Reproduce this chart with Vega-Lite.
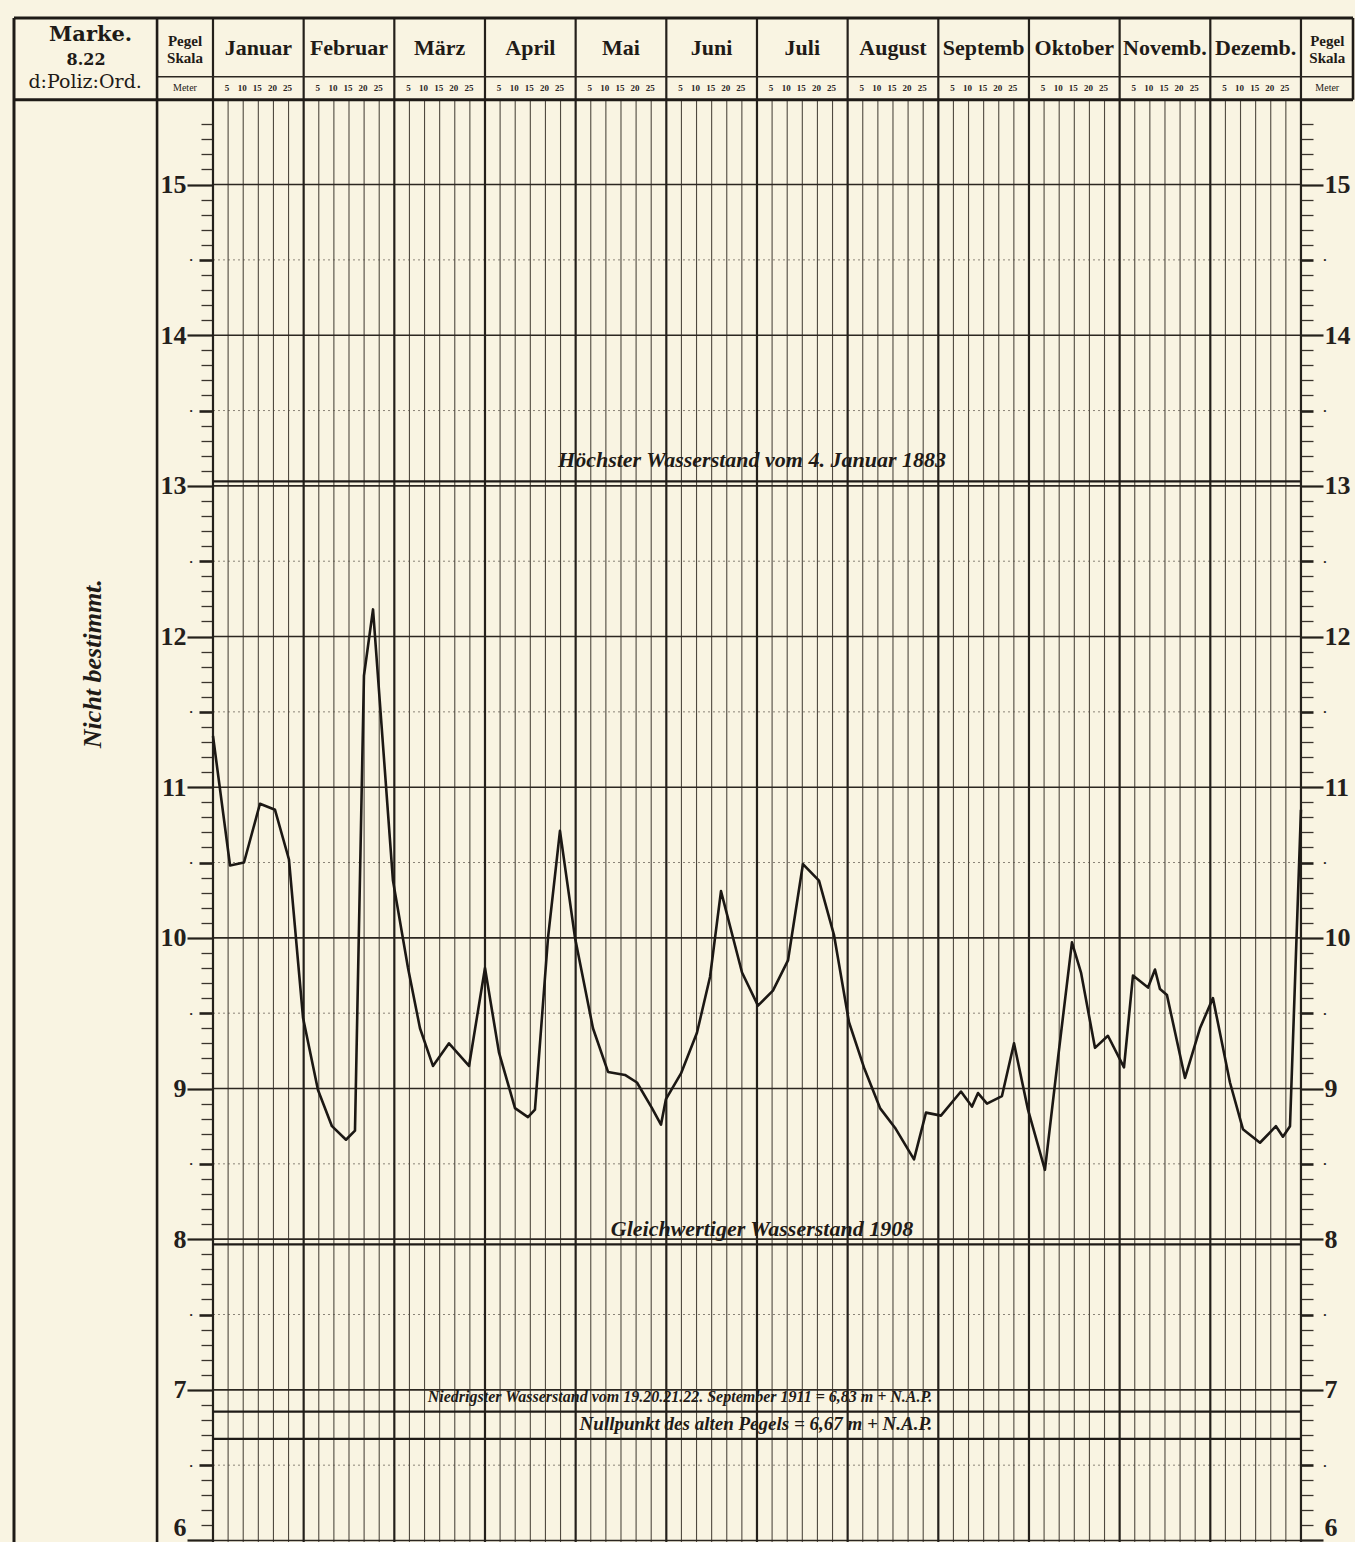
{
  "$schema": "https://vega.github.io/schema/vega-lite/v6.json",
  "width": 1355,
  "height": 1542,
  "autosize": {"type": "none"},
  "padding": 0,
  "background": "#f9f4e2",
  "config": {"view": {"stroke": null}, "axis": {"domain": false, "grid": false, "title": null}},
  "datasets": {
    "level": [
      {"t": 0, "h": 11.34}, {"t": 0.188, "h": 10.48}, {"t": 0.342, "h": 10.5}, {"t": 0.518, "h": 10.89},
      {"t": 0.684, "h": 10.85}, {"t": 0.838, "h": 10.52}, {"t": 0.993, "h": 9.47}, {"t": 1.158, "h": 8.99},
      {"t": 1.312, "h": 8.75}, {"t": 1.467, "h": 8.66}, {"t": 1.566, "h": 8.72}, {"t": 1.665, "h": 11.74},
      {"t": 1.765, "h": 12.18}, {"t": 1.985, "h": 10.38}, {"t": 2.151, "h": 9.8}, {"t": 2.283, "h": 9.4},
      {"t": 2.426, "h": 9.15}, {"t": 2.603, "h": 9.3}, {"t": 2.824, "h": 9.15}, {"t": 3.0, "h": 9.8},
      {"t": 3.154, "h": 9.24}, {"t": 3.331, "h": 8.87}, {"t": 3.474, "h": 8.81}, {"t": 3.551, "h": 8.86},
      {"t": 3.695, "h": 10.0}, {"t": 3.827, "h": 10.71}, {"t": 3.993, "h": 10.0}, {"t": 4.191, "h": 9.4},
      {"t": 4.357, "h": 9.11}, {"t": 4.544, "h": 9.09}, {"t": 4.676, "h": 9.04}, {"t": 4.842, "h": 8.87},
      {"t": 4.941, "h": 8.76}, {"t": 4.996, "h": 8.93}, {"t": 5.162, "h": 9.1}, {"t": 5.338, "h": 9.37},
      {"t": 5.482, "h": 9.74}, {"t": 5.603, "h": 10.31}, {"t": 5.835, "h": 9.77}, {"t": 6.011, "h": 9.55},
      {"t": 6.176, "h": 9.65}, {"t": 6.342, "h": 9.85}, {"t": 6.507, "h": 10.49}, {"t": 6.684, "h": 10.38},
      {"t": 6.849, "h": 10.02}, {"t": 7.015, "h": 9.44}, {"t": 7.18, "h": 9.14}, {"t": 7.357, "h": 8.87},
      {"t": 7.522, "h": 8.74}, {"t": 7.732, "h": 8.53}, {"t": 7.864, "h": 8.84}, {"t": 8.029, "h": 8.82},
      {"t": 8.25, "h": 8.98}, {"t": 8.371, "h": 8.88}, {"t": 8.438, "h": 8.97}, {"t": 8.537, "h": 8.9},
      {"t": 8.702, "h": 8.95}, {"t": 8.835, "h": 9.3}, {"t": 8.989, "h": 8.86}, {"t": 9.176, "h": 8.46},
      {"t": 9.32, "h": 9.2}, {"t": 9.474, "h": 9.97}, {"t": 9.574, "h": 9.77}, {"t": 9.728, "h": 9.27},
      {"t": 9.871, "h": 9.35}, {"t": 10.048, "h": 9.14}, {"t": 10.147, "h": 9.75}, {"t": 10.313, "h": 9.67},
      {"t": 10.39, "h": 9.79}, {"t": 10.445, "h": 9.66}, {"t": 10.522, "h": 9.62}, {"t": 10.721, "h": 9.07},
      {"t": 10.886, "h": 9.4}, {"t": 11.029, "h": 9.6}, {"t": 11.217, "h": 9.04}, {"t": 11.36, "h": 8.73},
      {"t": 11.548, "h": 8.64}, {"t": 11.724, "h": 8.75}, {"t": 11.801, "h": 8.68}, {"t": 11.879, "h": 8.75},
      {"t": 12.0, "h": 10.85}
    ],
    "pentads": [
      {"t": 0.1667, "d": "5"}, {"t": 0.3333, "d": "10"}, {"t": 0.5, "d": "15"}, {"t": 0.6667, "d": "20"}, {"t": 0.8333, "d": "25"},
      {"t": 1.1667, "d": "5"}, {"t": 1.3333, "d": "10"}, {"t": 1.5, "d": "15"}, {"t": 1.6667, "d": "20"}, {"t": 1.8333, "d": "25"},
      {"t": 2.1667, "d": "5"}, {"t": 2.3333, "d": "10"}, {"t": 2.5, "d": "15"}, {"t": 2.6667, "d": "20"}, {"t": 2.8333, "d": "25"},
      {"t": 3.1667, "d": "5"}, {"t": 3.3333, "d": "10"}, {"t": 3.5, "d": "15"}, {"t": 3.6667, "d": "20"}, {"t": 3.8333, "d": "25"},
      {"t": 4.1667, "d": "5"}, {"t": 4.3333, "d": "10"}, {"t": 4.5, "d": "15"}, {"t": 4.6667, "d": "20"}, {"t": 4.8333, "d": "25"},
      {"t": 5.1667, "d": "5"}, {"t": 5.3333, "d": "10"}, {"t": 5.5, "d": "15"}, {"t": 5.6667, "d": "20"}, {"t": 5.8333, "d": "25"},
      {"t": 6.1667, "d": "5"}, {"t": 6.3333, "d": "10"}, {"t": 6.5, "d": "15"}, {"t": 6.6667, "d": "20"}, {"t": 6.8333, "d": "25"},
      {"t": 7.1667, "d": "5"}, {"t": 7.3333, "d": "10"}, {"t": 7.5, "d": "15"}, {"t": 7.6667, "d": "20"}, {"t": 7.8333, "d": "25"},
      {"t": 8.1667, "d": "5"}, {"t": 8.3333, "d": "10"}, {"t": 8.5, "d": "15"}, {"t": 8.6667, "d": "20"}, {"t": 8.8333, "d": "25"},
      {"t": 9.1667, "d": "5"}, {"t": 9.3333, "d": "10"}, {"t": 9.5, "d": "15"}, {"t": 9.6667, "d": "20"}, {"t": 9.8333, "d": "25"},
      {"t": 10.1667, "d": "5"}, {"t": 10.3333, "d": "10"}, {"t": 10.5, "d": "15"}, {"t": 10.6667, "d": "20"}, {"t": 10.8333, "d": "25"},
      {"t": 11.1667, "d": "5"}, {"t": 11.3333, "d": "10"}, {"t": 11.5, "d": "15"}, {"t": 11.6667, "d": "20"}, {"t": 11.8333, "d": "25"}
    ],
    "months": [
      {"n": "Januar", "t": 0.5}, {"n": "Februar", "t": 1.5}, {"n": "März", "t": 2.5}, {"n": "April", "t": 3.5},
      {"n": "Mai", "t": 4.5}, {"n": "Juni", "t": 5.5}, {"n": "Juli", "t": 6.5}, {"n": "August", "t": 7.5},
      {"n": "Septemb", "t": 8.5}, {"n": "Oktober", "t": 9.5}, {"n": "Novemb.", "t": 10.5}, {"n": "Dezemb.", "t": 11.5}
    ],
    "monthlines": [
      {"t": 0}, {"t": 1}, {"t": 2}, {"t": 3}, {"t": 4}, {"t": 5}, {"t": 6}, {"t": 7}, {"t": 8}, {"t": 9}, {"t": 10}, {"t": 11}, {"t": 12}
    ],
    "ints": [
      {"v": 6}, {"v": 7}, {"v": 8}, {"v": 9}, {"v": 10}, {"v": 11}, {"v": 12}, {"v": 13}, {"v": 14}, {"v": 15}
    ],
    "halves": [
      {"v": 6.5}, {"v": 7.5}, {"v": 8.5}, {"v": 9.5}, {"v": 10.5}, {"v": 11.5}, {"v": 12.5}, {"v": 13.5}, {"v": 14.5}
    ],
    "refs": [
      {"name": "Höchster Wasserstand", "v": 13.03},
      {"name": "Gleichwertiger Wasserstand", "v": 7.965},
      {"name": "Niedrigster Wasserstand", "v": 6.855},
      {"name": "Nullpunkt des alten Pegels", "v": 6.675}
    ]
  },
  "resolve": {"axis": {"y": "independent"}},
  "layer": [
    {
      "data": {"name": "halves"},
      "mark": {"type": "rule", "stroke": "#8a8377", "strokeWidth": 1, "strokeDash": [2, 3]},
      "encoding": {
        "x": {"datum": 0, "type": "quantitative", "scale": {"domain": [-2.3493, 12.596], "nice": false, "zero": false}, "axis": null},
        "x2": {"datum": 12},
        "y": {"field": "v", "type": "quantitative", "scale": {"domain": [5.99, 16.225], "nice": false, "zero": false},
          "axis": {"orient": "left", "offset": -213, "values": [6.5, 7.5, 8.5, 9.5, 10.5, 11.5, 12.5, 13.5, 14.5],
            "tickSize": 14, "tickWidth": 2.6, "tickColor": "#24201b", "labelExpr": "'•'", "labelFontSize": 8,
            "labelColor": "#24201b", "labelPadding": 7, "labelOverlap": false, "labelFlush": false, "labelBound": false}}
      }
    },
    {
      "data": {"name": "pentads"},
      "mark": {"type": "rule", "stroke": "#4f493f", "strokeWidth": 1.1},
      "encoding": {
        "x": {"field": "t", "type": "quantitative", "scale": {"domain": [-2.3493, 12.596], "nice": false, "zero": false}, "axis": null},
        "y": {"datum": 15.563, "type": "quantitative", "scale": {"domain": [5.99, 16.225], "nice": false, "zero": false}, "axis": null},
        "y2": {"datum": 5.99}
      }
    },
    {
      "data": {"name": "ints"},
      "mark": {"type": "rule", "stroke": "#2c2721", "strokeWidth": 1.6},
      "encoding": {
        "x": {"datum": 0, "type": "quantitative", "scale": {"domain": [-2.3493, 12.596], "nice": false, "zero": false}, "axis": null},
        "x2": {"datum": 12},
        "y": {"field": "v", "type": "quantitative", "scale": {"domain": [5.99, 16.225], "nice": false, "zero": false},
          "axis": {"orient": "left", "offset": -213, "values": [6, 7, 8, 9, 10, 11, 12, 13, 14, 15],
            "tickSize": 26, "tickWidth": 2.2, "tickColor": "#24201b", "labelFont": "Liberation Serif",
            "labelFontWeight": "bold", "labelFontSize": 26, "labelColor": "#24201b", "labelPadding": 1,
            "labelBaseline": {"condition": {"test": "datum.value == 6", "value": "bottom"}, "value": "middle"},
            "labelOverlap": false, "labelFlush": false, "labelBound": false}}
      }
    },
    {
      "data": {"name": "monthlines"},
      "mark": {"type": "rule", "stroke": "#24201b", "strokeWidth": 2.2},
      "encoding": {
        "x": {"field": "t", "type": "quantitative", "scale": {"domain": [-2.3493, 12.596], "nice": false, "zero": false}, "axis": null},
        "y": {"datum": 16.106, "type": "quantitative", "scale": {"domain": [5.99, 16.225], "nice": false, "zero": false}, "axis": null},
        "y2": {"datum": 5.99}
      }
    },
    {
      "data": {"name": "refs"},
      "mark": {"type": "rule", "stroke": "#1f1b17", "strokeWidth": 2.2},
      "encoding": {
        "x": {"datum": 0, "type": "quantitative", "scale": {"domain": [-2.3493, 12.596], "nice": false, "zero": false}, "axis": null},
        "x2": {"datum": 12},
        "y": {"field": "v", "type": "quantitative", "scale": {"domain": [5.99, 16.225], "nice": false, "zero": false},
          "axis": {"orient": "right", "offset": -54, "values": [6, 7, 8, 9, 10, 11, 12, 13, 14, 15],
            "tickSize": 22, "tickWidth": 2.2, "tickColor": "#24201b", "labelFont": "Liberation Serif",
            "labelFontWeight": "bold", "labelFontSize": 26, "labelColor": "#24201b", "labelPadding": 1,
            "labelBaseline": {"condition": {"test": "datum.value == 6", "value": "bottom"}, "value": "middle"},
            "labelOverlap": false, "labelFlush": false, "labelBound": false}}
      }
    },
    {
      "data": {"name": "level"},
      "mark": {"type": "line", "stroke": "#1c1814", "strokeWidth": 2.6, "strokeJoin": "round"},
      "encoding": {
        "x": {"field": "t", "type": "quantitative", "scale": {"domain": [-2.3493, 12.596], "nice": false, "zero": false}, "axis": null},
        "y": {"field": "h", "type": "quantitative", "scale": {"domain": [5.99, 16.225], "nice": false, "zero": false},
          "axis": {"orient": "right", "offset": -54, "values": [6.5, 7.5, 8.5, 9.5, 10.5, 11.5, 12.5, 13.5, 14.5],
            "tickSize": 12, "tickWidth": 2.6, "tickColor": "#24201b", "labelExpr": "'•'", "labelFontSize": 8,
            "labelColor": "#24201b", "labelPadding": 10, "labelOverlap": false, "labelFlush": false, "labelBound": false}}
      }
    },
    {
      "data": {"values": [{}]},
      "mark": {"type": "rule", "stroke": "#1f1b17", "strokeWidth": 3},
      "encoding": {
        "x": {"datum": -2.195, "type": "quantitative", "scale": {"domain": [-2.3493, 12.596], "nice": false, "zero": false}, "axis": null},
        "x2": {"datum": 12.574},
        "y": {"datum": 16.106, "type": "quantitative", "scale": {"domain": [5.99, 16.225], "nice": false, "zero": false},
          "axis": {"orient": "left", "offset": -213,
            "values": [6.1, 6.2, 6.3, 6.4, 6.6, 6.7, 6.8, 6.9, 7.1, 7.2, 7.3, 7.4, 7.6, 7.7, 7.8, 7.9, 8.1, 8.2, 8.3, 8.4, 8.6, 8.7, 8.8, 8.9, 9.1, 9.2, 9.3, 9.4, 9.6, 9.7, 9.8, 9.9, 10.1, 10.2, 10.3, 10.4, 10.6, 10.7, 10.8, 10.9, 11.1, 11.2, 11.3, 11.4, 11.6, 11.7, 11.8, 11.9, 12.1, 12.2, 12.3, 12.4, 12.6, 12.7, 12.8, 12.9, 13.1, 13.2, 13.3, 13.4, 13.6, 13.7, 13.8, 13.9, 14.1, 14.2, 14.3, 14.4, 14.6, 14.7, 14.8, 14.9, 15.1, 15.2, 15.3, 15.4],
            "tickSize": 12, "tickWidth": 1.3, "tickColor": "#3a342d", "labels": false}}
      }
    },
    {
      "data": {"values": [{}]},
      "mark": {"type": "rule", "stroke": "#1f1b17", "strokeWidth": 3},
      "encoding": {
        "x": {"datum": -2.195, "type": "quantitative", "scale": {"domain": [-2.3493, 12.596], "nice": false, "zero": false}, "axis": null},
        "x2": {"datum": 12.574},
        "y": {"datum": 15.563, "type": "quantitative", "scale": {"domain": [5.99, 16.225], "nice": false, "zero": false},
          "axis": {"orient": "right", "offset": -54,
            "values": [6.1, 6.2, 6.3, 6.4, 6.6, 6.7, 6.8, 6.9, 7.1, 7.2, 7.3, 7.4, 7.6, 7.7, 7.8, 7.9, 8.1, 8.2, 8.3, 8.4, 8.6, 8.7, 8.8, 8.9, 9.1, 9.2, 9.3, 9.4, 9.6, 9.7, 9.8, 9.9, 10.1, 10.2, 10.3, 10.4, 10.6, 10.7, 10.8, 10.9, 11.1, 11.2, 11.3, 11.4, 11.6, 11.7, 11.8, 11.9, 12.1, 12.2, 12.3, 12.4, 12.6, 12.7, 12.8, 12.9, 13.1, 13.2, 13.3, 13.4, 13.6, 13.7, 13.8, 13.9, 14.1, 14.2, 14.3, 14.4, 14.6, 14.7, 14.8, 14.9, 15.1, 15.2, 15.3, 15.4],
            "tickSize": 12, "tickWidth": 1.3, "tickColor": "#3a342d", "labels": false}}
      }
    },
    {
      "data": {"values": [{}]},
      "mark": {"type": "rule", "stroke": "#2c2721", "strokeWidth": 1.5},
      "encoding": {
        "x": {"datum": -0.617, "type": "quantitative", "scale": {"domain": [-2.3493, 12.596], "nice": false, "zero": false}, "axis": null},
        "x2": {"datum": 12.574},
        "y": {"datum": 15.715, "type": "quantitative", "scale": {"domain": [5.99, 16.225], "nice": false, "zero": false}, "axis": null}
      }
    },
    {
      "data": {"values": [{}]},
      "mark": {"type": "rule", "stroke": "#1f1b17", "strokeWidth": 3},
      "encoding": {
        "x": {"datum": -2.195, "type": "quantitative", "scale": {"domain": [-2.3493, 12.596], "nice": false, "zero": false}, "axis": null},
        "y": {"datum": 16.106, "type": "quantitative", "scale": {"domain": [5.99, 16.225], "nice": false, "zero": false}, "axis": null},
        "y2": {"datum": 5.99}
      }
    },
    {
      "data": {"values": [{}]},
      "mark": {"type": "rule", "stroke": "#1f1b17", "strokeWidth": 2.6},
      "encoding": {
        "x": {"datum": -0.617, "type": "quantitative", "scale": {"domain": [-2.3493, 12.596], "nice": false, "zero": false}, "axis": null},
        "y": {"datum": 16.106, "type": "quantitative", "scale": {"domain": [5.99, 16.225], "nice": false, "zero": false}, "axis": null},
        "y2": {"datum": 5.99}
      }
    },
    {
      "data": {"values": [{}]},
      "mark": {"type": "rule", "stroke": "#1f1b17", "strokeWidth": 2.6},
      "encoding": {
        "x": {"datum": 12.574, "type": "quantitative", "scale": {"domain": [-2.3493, 12.596], "nice": false, "zero": false}, "axis": null},
        "y": {"datum": 16.106, "type": "quantitative", "scale": {"domain": [5.99, 16.225], "nice": false, "zero": false}, "axis": null},
        "y2": {"datum": 15.563}
      }
    },
    {
      "data": {"name": "months"},
      "mark": {"type": "text", "font": "Liberation Serif", "fontWeight": "bold", "fontSize": 22, "fill": "#1f1b17", "baseline": "middle", "align": "center"},
      "encoding": {
        "x": {"field": "t", "type": "quantitative", "scale": {"domain": [-2.3493, 12.596], "nice": false, "zero": false}, "axis": null},
        "y": {"datum": 15.905, "type": "quantitative", "scale": {"domain": [5.99, 16.225], "nice": false, "zero": false}, "axis": null},
        "text": {"field": "n"}
      }
    },
    {
      "data": {"name": "pentads"},
      "mark": {"type": "text", "font": "Liberation Serif", "fontWeight": "bold", "fontSize": 9, "fill": "#2a251f", "baseline": "middle", "align": "center", "dx": -1},
      "encoding": {
        "x": {"field": "t", "type": "quantitative", "scale": {"domain": [-2.3493, 12.596], "nice": false, "zero": false}, "axis": null},
        "y": {"datum": 15.642, "type": "quantitative", "scale": {"domain": [5.99, 16.225], "nice": false, "zero": false}, "axis": null},
        "text": {"field": "d"}
      }
    },
    {
      "data": {"values": [{}]},
      "mark": {"type": "text", "text": "Marke.", "font": "DejaVu Serif", "fontWeight": "bold", "fontSize": 21, "fill": "#1f1b17", "baseline": "middle", "align": "center"},
      "encoding": {
        "x": {"datum": -1.35, "type": "quantitative", "scale": {"domain": [-2.3493, 12.596], "nice": false, "zero": false}, "axis": null},
        "y": {"datum": 15.99, "type": "quantitative", "scale": {"domain": [5.99, 16.225], "nice": false, "zero": false}, "axis": null}
      }
    },
    {
      "data": {"values": [{}]},
      "mark": {"type": "text", "text": "8.22", "font": "DejaVu Serif", "fontWeight": "bold", "fontSize": 16, "fill": "#1f1b17", "baseline": "middle", "align": "center"},
      "encoding": {
        "x": {"datum": -1.40, "type": "quantitative", "scale": {"domain": [-2.3493, 12.596], "nice": false, "zero": false}, "axis": null},
        "y": {"datum": 15.83, "type": "quantitative", "scale": {"domain": [5.99, 16.225], "nice": false, "zero": false}, "axis": null}
      }
    },
    {
      "data": {"values": [{}]},
      "mark": {"type": "text", "text": "d:Poliz:Ord.", "font": "DejaVu Serif", "fontSize": 19, "fill": "#1f1b17", "baseline": "middle", "align": "center"},
      "encoding": {
        "x": {"datum": -1.41, "type": "quantitative", "scale": {"domain": [-2.3493, 12.596], "nice": false, "zero": false}, "axis": null},
        "y": {"datum": 15.682, "type": "quantitative", "scale": {"domain": [5.99, 16.225], "nice": false, "zero": false}, "axis": null}
      }
    },
    {
      "data": {"values": [{}]},
      "mark": {"type": "text", "text": ["Pegel", "Skala"], "lineHeight": 17, "font": "Liberation Serif", "fontWeight": "bold", "fontSize": 15, "fill": "#1f1b17", "baseline": "middle", "align": "center"},
      "encoding": {
        "x": {"datum": -0.309, "type": "quantitative", "scale": {"domain": [-2.3493, 12.596], "nice": false, "zero": false}, "axis": null},
        "y": {"datum": 15.95, "type": "quantitative", "scale": {"domain": [5.99, 16.225], "nice": false, "zero": false}, "axis": null}
      }
    },
    {
      "data": {"values": [{}]},
      "mark": {"type": "text", "text": ["Pegel", "Skala"], "lineHeight": 17, "font": "Liberation Serif", "fontWeight": "bold", "fontSize": 15, "fill": "#1f1b17", "baseline": "middle", "align": "center"},
      "encoding": {
        "x": {"datum": 12.29, "type": "quantitative", "scale": {"domain": [-2.3493, 12.596], "nice": false, "zero": false}, "axis": null},
        "y": {"datum": 15.95, "type": "quantitative", "scale": {"domain": [5.99, 16.225], "nice": false, "zero": false}, "axis": null}
      }
    },
    {
      "data": {"values": [{}]},
      "mark": {"type": "text", "text": "Meter", "font": "Liberation Serif", "fontSize": 10, "fill": "#1f1b17", "baseline": "middle", "align": "center"},
      "encoding": {
        "x": {"datum": -0.309, "type": "quantitative", "scale": {"domain": [-2.3493, 12.596], "nice": false, "zero": false}, "axis": null},
        "y": {"datum": 15.642, "type": "quantitative", "scale": {"domain": [5.99, 16.225], "nice": false, "zero": false}, "axis": null}
      }
    },
    {
      "data": {"values": [{}]},
      "mark": {"type": "text", "text": "Meter", "font": "Liberation Serif", "fontSize": 10, "fill": "#1f1b17", "baseline": "middle", "align": "center"},
      "encoding": {
        "x": {"datum": 12.29, "type": "quantitative", "scale": {"domain": [-2.3493, 12.596], "nice": false, "zero": false}, "axis": null},
        "y": {"datum": 15.642, "type": "quantitative", "scale": {"domain": [5.99, 16.225], "nice": false, "zero": false}, "axis": null}
      }
    },
    {
      "data": {"values": [{}]},
      "mark": {"type": "text", "text": "Nicht bestimmt.", "angle": 270, "font": "Liberation Serif", "fontStyle": "italic", "fontWeight": "bold", "fontSize": 26, "fill": "#1f1b17", "baseline": "middle", "align": "center"},
      "encoding": {
        "x": {"datum": -1.324, "type": "quantitative", "scale": {"domain": [-2.3493, 12.596], "nice": false, "zero": false}, "axis": null},
        "y": {"datum": 11.82, "type": "quantitative", "scale": {"domain": [5.99, 16.225], "nice": false, "zero": false}, "axis": null}
      }
    },
    {
      "data": {"values": [{}]},
      "mark": {"type": "text", "text": "Höchster Wasserstand vom 4. Januar 1883", "font": "Liberation Serif", "fontStyle": "italic", "fontWeight": "bold", "fontSize": 22, "fill": "#1f1b17", "baseline": "middle", "align": "center"},
      "encoding": {
        "x": {"datum": 5.945, "type": "quantitative", "scale": {"domain": [-2.3493, 12.596], "nice": false, "zero": false}, "axis": null},
        "y": {"datum": 13.17, "type": "quantitative", "scale": {"domain": [5.99, 16.225], "nice": false, "zero": false}, "axis": null}
      }
    },
    {
      "data": {"values": [{}]},
      "mark": {"type": "text", "text": "Gleichwertiger Wasserstand 1908", "font": "Liberation Serif", "fontStyle": "italic", "fontWeight": "bold", "fontSize": 22, "fill": "#1f1b17", "baseline": "middle", "align": "center"},
      "encoding": {
        "x": {"datum": 6.055, "type": "quantitative", "scale": {"domain": [-2.3493, 12.596], "nice": false, "zero": false}, "axis": null},
        "y": {"datum": 8.065, "type": "quantitative", "scale": {"domain": [5.99, 16.225], "nice": false, "zero": false}, "axis": null}
      }
    },
    {
      "data": {"values": [{}]},
      "mark": {"type": "text", "text": "Niedrigster Wasserstand vom 19.20.21.22. September 1911 = 6,83 m + N.A.P.", "font": "Liberation Serif", "fontStyle": "italic", "fontWeight": "bold", "fontSize": 16, "fill": "#1f1b17", "baseline": "middle", "align": "center"},
      "encoding": {
        "x": {"datum": 5.151, "type": "quantitative", "scale": {"domain": [-2.3493, 12.596], "nice": false, "zero": false}, "axis": null},
        "y": {"datum": 6.953, "type": "quantitative", "scale": {"domain": [5.99, 16.225], "nice": false, "zero": false}, "axis": null}
      }
    },
    {
      "data": {"values": [{}]},
      "mark": {"type": "text", "text": "Nullpunkt des alten Pegels = 6,67 m + N.A.P.", "font": "Liberation Serif", "fontStyle": "italic", "fontWeight": "bold", "fontSize": 19, "fill": "#1f1b17", "baseline": "middle", "align": "center"},
      "encoding": {
        "x": {"datum": 5.989, "type": "quantitative", "scale": {"domain": [-2.3493, 12.596], "nice": false, "zero": false}, "axis": null},
        "y": {"datum": 6.775, "type": "quantitative", "scale": {"domain": [5.99, 16.225], "nice": false, "zero": false}, "axis": null}
      }
    }
  ]
}
